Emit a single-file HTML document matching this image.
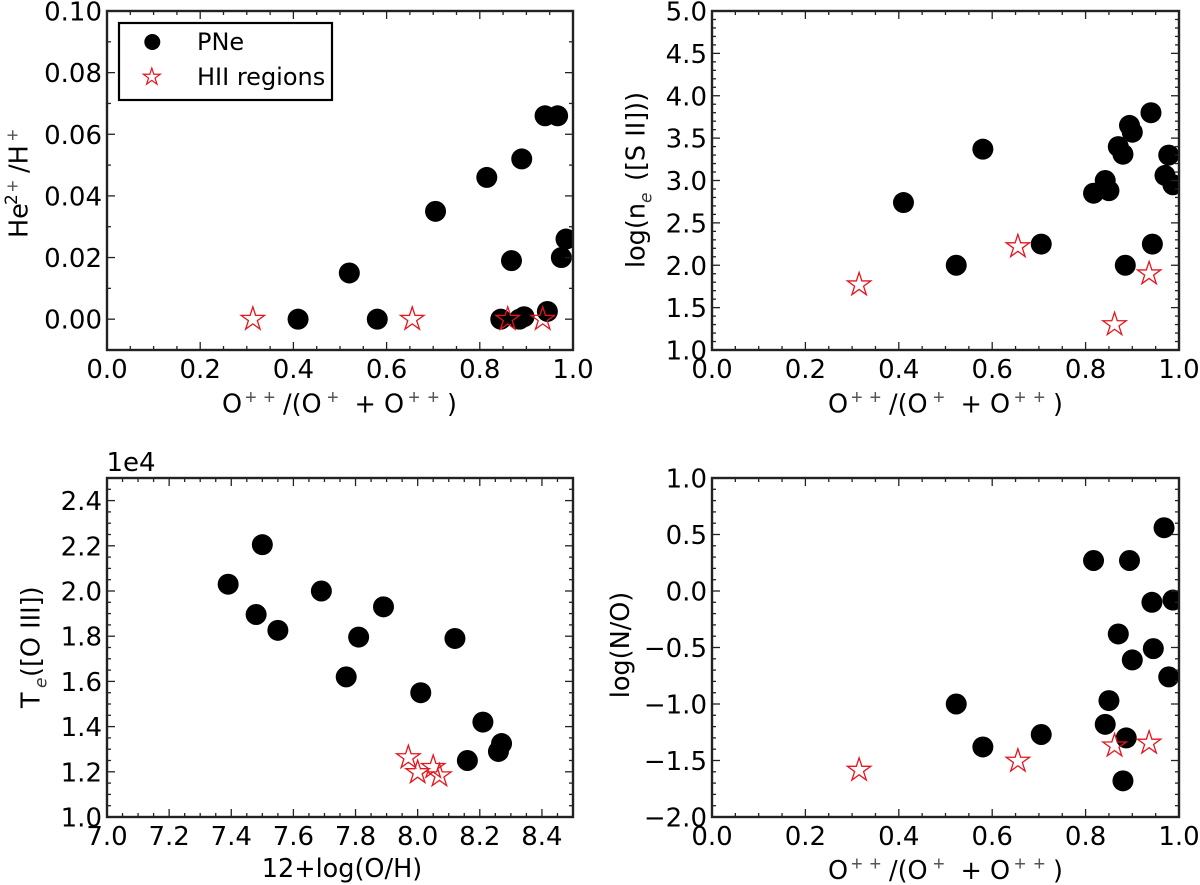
<!DOCTYPE html>
<html lang="en">
<head>
<meta charset="utf-8">
<title>Four-panel scatter chart of PNe and HII regions</title>
<style>
html,body{margin:0;padding:0;background:#fff;width:1200px;height:885px;overflow:hidden}
svg{display:block}
text{font-family:"DejaVu Sans","Liberation Sans",sans-serif;fill:#000}
.lab{font-size:25.5px}
.sup{font-family:"Liberation Sans",sans-serif;font-size:20px;fill:#555}
.num{font-size:17px}
.sub{font-size:17px;font-style:italic;fill:#333}
</style>
</head>
<body>
<svg id="chart" xmlns="http://www.w3.org/2000/svg" width="1200" height="885" viewBox="0 0 1200 885">
  <rect width="1200" height="885" fill="#fff"></rect>
  <defs>
    <clipPath id="clip-0"><rect x="107" y="11" width="466" height="339"></rect></clipPath>
    <clipPath id="clip-1"><rect x="712" y="11" width="467" height="339"></rect></clipPath>
    <clipPath id="clip-2"><rect x="107" y="478" width="466" height="339"></rect></clipPath>
    <clipPath id="clip-3"><rect x="712" y="478" width="467" height="339"></rect></clipPath>
  </defs>
  <g id="panels"></g>

  <text class="lab" y="412.5"><tspan x="222">O</tspan><tspan class="sup" x="245" y="404">+</tspan><tspan class="sup" x="263.5" y="404">+</tspan><tspan x="283" y="412.5">/(O</tspan><tspan class="sup" x="327" y="404">+</tspan><tspan x="354.5" y="412.5">+</tspan><tspan x="384" y="412.5">O</tspan><tspan class="sup" x="408.2" y="404">+</tspan><tspan class="sup" x="427.5" y="404">+</tspan><tspan x="447" y="412.5">)</tspan></text>
  <text class="lab" y="412.5" transform="translate(606,0)"><tspan x="222">O</tspan><tspan class="sup" x="245" y="404">+</tspan><tspan class="sup" x="263.5" y="404">+</tspan><tspan x="283" y="412.5">/(O</tspan><tspan class="sup" x="327" y="404">+</tspan><tspan x="354.5" y="412.5">+</tspan><tspan x="384" y="412.5">O</tspan><tspan class="sup" x="408.2" y="404">+</tspan><tspan class="sup" x="427.5" y="404">+</tspan><tspan x="447" y="412.5">)</tspan></text>
  <text class="lab" y="879" transform="translate(606,0)"><tspan x="222">O</tspan><tspan class="sup" x="245" y="870.5">+</tspan><tspan class="sup" x="263.5" y="870.5">+</tspan><tspan x="283" y="879">/(O</tspan><tspan class="sup" x="327" y="870.5">+</tspan><tspan x="354.5" y="879">+</tspan><tspan x="384" y="879">O</tspan><tspan class="sup" x="408.2" y="870.5">+</tspan><tspan class="sup" x="427.5" y="870.5">+</tspan><tspan x="447" y="879">)</tspan></text>
  <text class="lab" x="342" y="877" text-anchor="middle">12+log(O/H)</text>

  <text class="lab" transform="translate(27.5,238) rotate(-90)"><tspan x="0" y="0">He</tspan><tspan class="num" x="33" y="-10.5">2</tspan><tspan class="sup" x="46" y="-8">+</tspan><tspan x="65" y="0">/H</tspan><tspan class="sup" x="97" y="-8">+</tspan></text>
  <text class="lab" transform="translate(644.5,268) rotate(-90)"><tspan x="0" y="0">log(n</tspan><tspan class="sub" x="65" y="7">e</tspan><tspan x="87" y="0">([S II]))</tspan></text>
  <text class="lab" transform="translate(39.5,708) rotate(-90)"><tspan x="0" y="0">T</tspan><tspan class="sub" x="20" y="7">e</tspan><tspan x="31" y="0">([O III])</tspan></text>
  <text class="lab" x="-645" y="629" text-anchor="middle" transform="rotate(-90)">log(N/O)</text>

  <text font-size="26" x="106.5" y="471">1e4</text>

  <g id="legend">
    <rect x="119" y="23" width="213" height="77" fill="#fff" stroke="#000" stroke-width="2.2"></rect>
    <circle cx="152.3" cy="42" r="8" fill="#000"></circle>
    <text x="197" y="50" font-size="24">PNe</text>
    <text x="197" y="85" font-size="24">HII regions</text>
  </g>
</svg>
<script>
// Tick labels
var ratioTicks = ['0.0', '0.2', '0.4', '0.6', '0.8', '1.0'];
var heliumTicks = ['0.00', '0.02', '0.04', '0.06', '0.08', '0.10'];
var densityTicks = ['1.0', '1.5', '2.0', '2.5', '3.0', '3.5', '4.0', '4.5', '5.0'];
var abundanceTicks = ['7.0', '7.2', '7.4', '7.6', '7.8', '8.0', '8.2', '8.4'];
var temperatureTicks = ['1.0', '1.2', '1.4', '1.6', '1.8', '2.0', '2.2', '2.4'];
var nitrogenTicks = ['\u22122.0', '\u22121.5', '\u22121.0', '\u22120.5', '0.0', '0.5', '1.0'];

// Panel 1: He2+/H+ against O++/(O+ + O++)
var heliumPneX = [0.41, 0.52, 0.58, 0.705, 0.815, 0.845, 0.868, 0.885, 0.895, 0.89, 0.94, 0.967, 0.945, 0.975, 0.985];
var heliumPneY = [0, 0.015, 0, 0.035, 0.046, 0, 0.019, 0, 0.0008, 0.052, 0.066, 0.066, 0.0025, 0.02, 0.026];
var heliumHiiX = [0.313, 0.655, 0.86, 0.935];
var heliumHiiY = [0, 0, 0, 0];

// Panel 2: log(ne) against O++/(O+ + O++)
var densityPneX = [0.41, 0.523, 0.58, 0.705, 0.817, 0.842, 0.85, 0.87, 0.88, 0.894, 0.9, 0.885, 0.94, 0.943, 0.97, 0.978, 0.987];
var densityPneY = [2.74, 2.0, 3.37, 2.25, 2.85, 3.0, 2.88, 3.4, 3.31, 3.65, 3.57, 2.0, 3.8, 2.25, 3.06, 3.3, 2.95];
var densityHiiX = [0.315, 0.655, 0.862, 0.936];
var densityHiiY = [1.77, 2.22, 1.3, 1.9];

// Panel 3: Te([O III]) against 12+log(O/H)
var temperaturePneX = [7.39, 7.5, 7.48, 7.55, 7.69, 7.77, 7.81, 7.89, 8.01, 8.12, 8.21, 8.16, 8.26, 8.27];
var temperaturePneY = [2.03, 2.205, 1.896, 1.826, 2.0, 1.62, 1.796, 1.93, 1.55, 1.79, 1.42, 1.25, 1.29, 1.325];
var temperatureHiiX = [7.97, 8.0, 8.05, 8.07];
var temperatureHiiY = [1.263, 1.197, 1.22, 1.183];

// Panel 4: log(N/O) against O++/(O+ + O++)
var nitrogenPneX = [0.523, 0.58, 0.705, 0.817, 0.842, 0.85, 0.87, 0.88, 0.887, 0.894, 0.9, 0.942, 0.945, 0.968, 0.978, 0.987];
var nitrogenPneY = [-1.0, -1.38, -1.27, 0.27, -1.18, -0.97, -0.38, -1.68, -1.3, 0.27, -0.61, -0.1, -0.51, 0.56, -0.76, -0.08];
var nitrogenHiiX = [0.315, 0.655, 0.862, 0.936];
var nitrogenHiiY = [-1.585, -1.505, -1.37, -1.345];

var NS = 'http://www.w3.org/2000/svg';
var root = document.getElementById('panels');

function make(tag, parent, attrs) {
  var el = document.createElementNS(NS, tag);
  for (var k in attrs) { el.setAttribute(k, attrs[k]); }
  parent.appendChild(el);
  return el;
}
function num(label) { return parseFloat(label.replace('\u2212', '-')); }
function linear(d0, d1, r0, r1) {
  return function (v) { return r0 + (v - d0) / (d1 - d0) * (r1 - r0); };
}
function starPoints(cx, cy, R) {
  var r = R * 0.382, pts = [];
  for (var i = 0; i < 10; i++) {
    var a = -Math.PI / 2 + i * Math.PI / 5, q = i % 2 ? r : R;
    pts.push((cx + q * Math.cos(a)).toFixed(2) + ',' + (cy + q * Math.sin(a)).toFixed(2));
  }
  return pts.join(' ');
}

function drawPanel(p, index) {
  var g = make('g', root, {});
  
  
  var sx = linear(p.xMin, p.xMax, p.left, p.right);
  var sy = linear(p.yMin, p.yMax, p.bottom, p.top);

  var marks = make('g', g, { 'clip-path': 'url(#clip-' + index + ')' });
  
  
  p.pneX.forEach(function (x, i) {
    var c = make('circle', marks, { cx: sx(x), cy: sy(p.pneY[i]), r: 10.5, fill: '#000' });
    
    
  });
  p.hiiX.forEach(function (x, i) {
    var s = make('polygon', marks, { points: starPoints(sx(x), sy(p.hiiY[i]), 12.3), fill: 'none', stroke: '#e8141c', 'stroke-width': 1.3 });
    
    
  });

  var ticks = make('g', g, { stroke: '#222' });
  
  
  var n, i, v, pos, len;
  n = Math.round((p.xMax - p.xMin) / p.xMinor);
  for (i = 0; i <= n; i++) {
    v = p.xMin + i * p.xMinor;
    pos = sx(v);
    len = Math.abs(Math.round(v / p.xMajor) * p.xMajor - v) < 1e-6 ? 8 : 4;
    var xb = make('line', ticks, { x1: pos, x2: pos, y1: p.bottom, y2: p.bottom - len, 'stroke-width': 1.3 });
    
    
    var xt = make('line', ticks, { x1: pos, x2: pos, y1: p.top, y2: p.top + len, 'stroke-width': 1.3 });
    
    
  }
  n = Math.round((p.yMax - p.yMin) / p.yMinor);
  for (i = 0; i <= n; i++) {
    v = p.yMin + i * p.yMinor;
    pos = sy(v);
    len = Math.abs(Math.round(v / p.yMajor) * p.yMajor - v) < 1e-6 ? 8 : 4;
    var yl = make('line', ticks, { x1: p.left, x2: p.left + len, y1: pos, y2: pos, 'stroke-width': 1.3 });
    
    
    var yr = make('line', ticks, { x1: p.right, x2: p.right - len, y1: pos, y2: pos, 'stroke-width': 1.3 });
    
    
  }

  p.xTicks.forEach(function (label) {
    var t = make('text', g, { x: sx(num(label)), y: p.bottom + 28, 'text-anchor': 'middle', 'font-size': 26 });
    t.textContent = label;
    
    
  });
  p.yTicks.forEach(function (label) {
    var t = make('text', g, { x: p.left - 5, y: sy(num(label)) + 9.5, 'text-anchor': 'end', 'font-size': 26 });
    t.textContent = label;
    
    
  });

  var frame = make('rect', g, { x: p.left, y: p.top, width: p.right - p.left, height: p.bottom - p.top, fill: 'none', stroke: '#222', 'stroke-width': 2.4 });
  
  
}

var panels = [
  { name: 'helium', left: 107, right: 573, top: 11, bottom: 350, xMin: 0, xMax: 1, yMin: -0.01, yMax: 0.1, xMajor: 0.2, xMinor: 0.05, yMajor: 0.02, yMinor: 0.01, xTicks: ratioTicks, yTicks: heliumTicks, pneX: heliumPneX, pneY: heliumPneY, hiiX: heliumHiiX, hiiY: heliumHiiY },
  { name: 'density', left: 712, right: 1179, top: 11, bottom: 350, xMin: 0, xMax: 1, yMin: 1, yMax: 5, xMajor: 0.2, xMinor: 0.05, yMajor: 0.5, yMinor: 0.1, xTicks: ratioTicks, yTicks: densityTicks, pneX: densityPneX, pneY: densityPneY, hiiX: densityHiiX, hiiY: densityHiiY },
  { name: 'temperature', left: 107, right: 573, top: 478, bottom: 817, xMin: 7, xMax: 8.5, yMin: 1, yMax: 2.5, xMajor: 0.2, xMinor: 0.05, yMajor: 0.2, yMinor: 0.05, xTicks: abundanceTicks, yTicks: temperatureTicks, pneX: temperaturePneX, pneY: temperaturePneY, hiiX: temperatureHiiX, hiiY: temperatureHiiY },
  { name: 'nitrogen', left: 712, right: 1179, top: 478, bottom: 817, xMin: 0, xMax: 1, yMin: -2, yMax: 1, xMajor: 0.2, xMinor: 0.05, yMajor: 0.5, yMinor: 0.1, xTicks: ratioTicks, yTicks: nitrogenTicks, pneX: nitrogenPneX, pneY: nitrogenPneY, hiiX: nitrogenHiiX, hiiY: nitrogenHiiY }
];
panels.forEach(drawPanel);

var legendStar = make('polygon', document.getElementById('legend'), { points: starPoints(151.8, 77, 8.9), fill: 'none', stroke: '#e8141c', 'stroke-width': 1.2 });


</script>
</body>
</html>
